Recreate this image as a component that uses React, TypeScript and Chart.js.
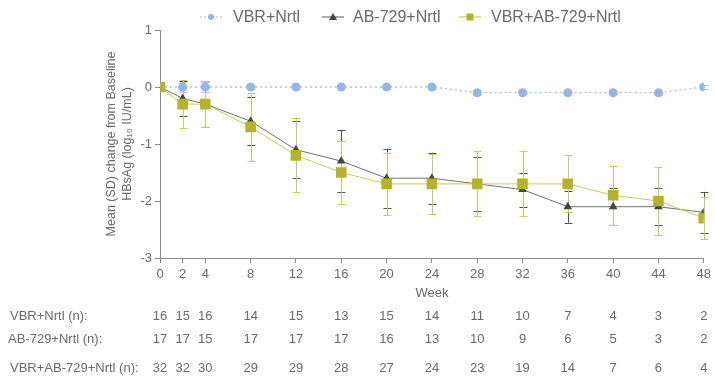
import React, { useEffect, useRef } from "react";
import { Chart, registerables } from "chart.js";

Chart.register(...registerables);

const weeks = [0, 2, 4, 8, 12, 16, 20, 24, 28, 32, 36, 40, 44, 48];

const vbrMean = [0, 0, 0, 0, 0, 0, 0, 0, -0.1, -0.1, -0.1, -0.1, -0.1, 0];
const vbrSD = [0, 0.08, 0.08, 0.03, 0.03, 0.03, 0.03, 0.03, 0.04, 0.03, 0.03, 0.03, 0.03, 0.03];

const abMean = [0, -0.2, -0.3, -0.6, -1.1, -1.3, -1.6, -1.6, -1.7, -1.8, -2.1, -2.1, -2.1, -2.2];
const abSD = [0, 0.3, 0.4, 0.42, 0.5, 0.55, 0.52, 0.45, 0.48, 0.3, 0.28, 0.32, 0.32, 0.36];

const comboMean = [0, -0.3, -0.3, -0.7, -1.2, -1.5, -1.7, -1.7, -1.7, -1.7, -1.7, -1.9, -2.0, -2.3];
const comboSD = [0, 0.42, 0.4, 0.6, 0.65, 0.55, 0.55, 0.53, 0.57, 0.57, 0.5, 0.52, 0.6, 0.37];

const vbrN = [16, 15, 16, 14, 15, 13, 15, 14, 11, 10, 7, 4, 3, 2];
const abN = [17, 17, 15, 17, 17, 17, 16, 13, 10, 9, 6, 5, 3, 2];
const comboN = [32, 32, 30, 29, 29, 28, 27, 24, 23, 19, 14, 7, 6, 4];

const seriesNames = ["VBR+Nrtl", "AB-729+Nrtl", "VBR+AB-729+Nrtl"];
const rowLabels = ["VBR+Nrtl (n):", "AB-729+Nrtl (n):", "VBR+AB-729+Nrtl (n):"];
const yTitle = ["Mean (SD) change from Baseline", "HBsAg (log\u2081\u2080 IU/mL)"];
const xTitle = "Week";

const FONT = "'Liberation Sans', Arial, sans-serif";
const TEXT = "#6a6a6a";
const AXIS = "#8a8a8a";

const BLUE = "#94b4ea";
const BLUE_LINE = "#a9c2ee";
const DARK = "#3e4848";
const DARK_LINE = "#6e7373";
const OLIVE = "#b3b42a";
const OLIVE_LINE = "#c9ca62";

export default function App() {
  const ref = useRef<HTMLCanvasElement>(null);

  useEffect(() => {
    const canvas = ref.current!;

    const sds = [vbrSD, abSD, comboSD];
    const barColors = [BLUE_LINE, "#4f5656", OLIVE_LINE];

    const errorBars = {
      id: "errorBars",
      beforeDatasetsDraw(chart: any) {
        const c = chart.ctx;
        const xs = chart.scales.x;
        const ys = chart.scales.y;
        c.save();
        chart.data.datasets.forEach((ds: any, di: number) => {
          const sd = sds[di];
          c.strokeStyle = barColors[di];
          c.lineWidth = 1;
          ds.data.forEach((p: any, i: number) => {
            const s = sd[i];
            if (!s) return;
            const x = Math.round(xs.getPixelForValue(p.x)) + 0.5;
            const y1 = ys.getPixelForValue(p.y + s);
            const y2 = ys.getPixelForValue(p.y - s);
            c.beginPath();
            c.moveTo(x, y1);
            c.lineTo(x, y2);
            c.moveTo(x - 4, Math.round(y1) + 0.5);
            c.lineTo(x + 4, Math.round(y1) + 0.5);
            c.moveTo(x - 4, Math.round(y2) + 0.5);
            c.lineTo(x + 4, Math.round(y2) + 0.5);
            c.stroke();
          });
        });
        c.restore();
      },
    };

    const extras = {
      id: "extras",
      afterDraw(chart: any) {
        const c = chart.ctx;
        const xs = chart.scales.x;
        const area = chart.chartArea;
        c.save();
        // Legend
        c.font = `16px ${FONT}`;
        c.textBaseline = "middle";
        c.textAlign = "left";
        const legend = [
          { x: 200, tx: 233, line: BLUE_LINE, dash: [2, 2], marker: "circle", fill: BLUE },
          { x: 322, tx: 353, line: DARK_LINE, dash: [], marker: "triangle", fill: DARK },
          { x: 459, tx: 491, line: OLIVE_LINE, dash: [], marker: "rect", fill: OLIVE },
        ];
        const ly = 17;
        legend.forEach((it, i) => {
          c.strokeStyle = it.line;
          c.lineWidth = 1.2;
          c.setLineDash(it.dash);
          c.beginPath();
          c.moveTo(it.x, ly);
          c.lineTo(it.x + 22, ly);
          c.stroke();
          c.setLineDash([]);
          const mx = it.x + 11;
          c.fillStyle = it.fill;
          c.beginPath();
          if (it.marker === "circle") {
            c.arc(mx, ly, 3, 0, Math.PI * 2);
          } else if (it.marker === "triangle") {
            c.moveTo(mx, ly - 4);
            c.lineTo(mx + 4, ly + 3);
            c.lineTo(mx - 4, ly + 3);
            c.closePath();
          } else {
            c.rect(mx - 3.5, ly - 3.5, 7, 7);
          }
          c.fill();
          c.fillStyle = TEXT;
          c.fillText(seriesNames[i], it.tx, ly + 1);
        });

        // Y-axis title
        c.save();
        c.font = `12.5px ${FONT}`;
        c.fillStyle = TEXT;
        c.textAlign = "center";
        c.textBaseline = "middle";
        const cy = (area.top + area.bottom) / 2;
        c.translate(112, cy);
        c.rotate(-Math.PI / 2);
        c.fillText(yTitle[0], 0, 0);
        c.fillText(yTitle[1], 0, 16);
        c.restore();

        // X title
        c.font = `13px ${FONT}`;
        c.fillStyle = TEXT;
        c.textAlign = "center";
        c.textBaseline = "middle";
        c.fillText(xTitle, xs.getPixelForValue(24), 293);

        // Table
        const rows = [vbrN, abN, comboN];
        const rowY = [316, 339, 368];
        rows.forEach((r, ri) => {
          c.textAlign = "left";
          c.fillText(rowLabels[ri], ri === 1 ? 8 : 10, rowY[ri]);
          c.textAlign = "center";
          r.forEach((n, i) => {
            c.fillText(String(n), xs.getPixelForValue(weeks[i]), rowY[ri]);
          });
        });
        c.restore();
      },
    };

    const toPts = (arr: number[]) => arr.map((v, i) => ({ x: weeks[i], y: v }));

    const chart = new Chart(canvas, {
      type: "line",
      data: {
        datasets: [
          {
            label: seriesNames[0],
            data: toPts(vbrMean),
            borderColor: BLUE_LINE,
            borderWidth: 1.3,
            borderDash: [2, 3],
            backgroundColor: BLUE,
            pointBackgroundColor: BLUE,
            pointBorderColor: BLUE,
            pointStyle: "circle",
            pointRadius: 4.5,
            pointBorderWidth: 0,
            order: 2,
          },
          {
            label: seriesNames[1],
            data: toPts(abMean),
            borderColor: DARK_LINE,
            borderWidth: 1,
            backgroundColor: DARK,
            pointBackgroundColor: DARK,
            pointBorderColor: DARK,
            pointStyle: "triangle",
            pointRadius: 5,
            pointBorderWidth: 0,
            order: 1,
          },
          {
            label: seriesNames[2],
            data: toPts(comboMean),
            borderColor: OLIVE_LINE,
            borderWidth: 1,
            backgroundColor: OLIVE,
            pointBackgroundColor: OLIVE,
            pointBorderColor: OLIVE,
            pointStyle: "rect",
            pointRadius: 7.5,
            pointBorderWidth: 0,
            order: 0,
          },
        ],
      },
      options: {
        responsive: false,
        animation: false,
        layout: { padding: { left: 0, right: 8, top: 30, bottom: 0 } },
        plugins: { legend: { display: false }, tooltip: { enabled: false } },
        scales: {
          x: {
            type: "linear",
            min: 0,
            max: 48,
            afterBuildTicks: (scale: any) => {
              scale.ticks = weeks.map((v) => ({ value: v }));
            },
            afterFit: (scale: any) => {
              scale.height = 121;
            },
            ticks: {
              autoSkip: false,
              maxRotation: 0,
              color: TEXT,
              font: { family: FONT, size: 13 },
              padding: 4,
            },
            grid: {
              display: true,
              drawOnChartArea: false,
              drawTicks: true,
              tickLength: 5,
              color: AXIS,
            },
            border: { display: true, color: AXIS, width: 1 },
          },
          y: {
            type: "linear",
            min: -3,
            max: 1,
            afterFit: (scale: any) => {
              scale.width = 160;
            },
            ticks: {
              stepSize: 1,
              color: TEXT,
              font: { family: FONT, size: 13 },
              padding: 3,
            },
            grid: {
              display: true,
              drawOnChartArea: false,
              drawTicks: true,
              tickLength: 5,
              color: AXIS,
            },
            border: { display: true, color: AXIS, width: 1 },
          },
        },
      },
      plugins: [errorBars, extras],
    });

    return () => chart.destroy();
  }, []);

  return (
    <div style={{ position: "fixed", left: 0, top: 0, width: 715, height: 379, background: "#fff" }}>
      <canvas ref={ref} width={715} height={379} style={{ display: "block" }} />
    </div>
  );
}
